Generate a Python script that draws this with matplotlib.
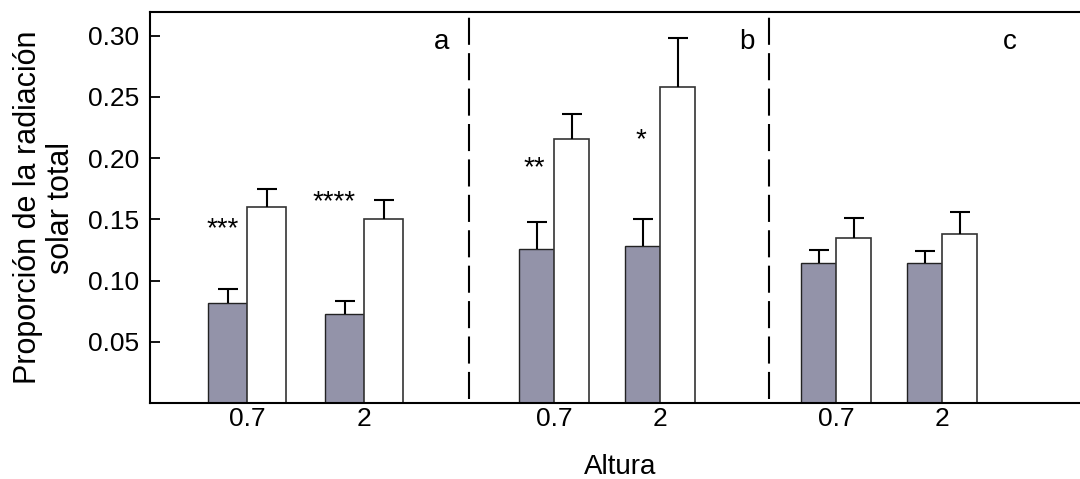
import matplotlib
matplotlib.use("Agg")
import matplotlib.pyplot as plt
import numpy as np

# ---- data ----
panels = ["a", "b", "c"]
alturas = ["0.7", "2", "0.7", "2", "0.7", "2"]
gray_vals = [0.082, 0.073, 0.126, 0.128, 0.114, 0.114]
gray_err = [0.011, 0.010, 0.022, 0.022, 0.011, 0.010]
white_vals = [0.160, 0.150, 0.216, 0.258, 0.1345, 0.138]
white_err = [0.015, 0.016, 0.020, 0.040, 0.017, 0.018]
signif = ["***", "****", "**", "*", "", ""]
signif_y = [0.136, 0.158, 0.186, 0.209, 0, 0]

# ---- layout (x in pixel-like units from the left spine) ----
group_x = np.array([97, 214, 404, 510, 686, 792])
bar_w = np.array([39, 39, 35, 35, 35, 35])
signif_x = [73, 184, 384, 491, 0, 0]
divider_x = [319.3, 619.3]
panel_label_x = [291.7, 596.7, 860]
panel_label_y = 0.2892

plt.rcParams['font.family'] = ['Liberation Sans', 'DejaVu Sans']

fig = plt.figure(figsize=(10.8, 4.79), dpi=100)
ax = fig.add_axes([150/1080, 1-403/479, 940/1080, (403-12)/479])

gray_col = '#9393a9'
ax.bar(group_x - bar_w/2, gray_vals, width=bar_w, color=gray_col,
       edgecolor='#222222', linewidth=1.0, zorder=2)
ax.bar(group_x + bar_w/2, white_vals, width=bar_w, color='white',
       edgecolor='#333333', linewidth=1.2, zorder=2)

for xs, vals, errs in [(group_x - bar_w/2, gray_vals, gray_err),
                       (group_x + bar_w/2, white_vals, white_err)]:
    tops = np.array(vals) + np.array(errs)
    ax.vlines(xs, vals, tops, colors='black', linewidth=1.5, zorder=3)
    ax.plot(xs, tops, linestyle='none', marker='_', markersize=15,
            markeredgewidth=1.5, color='black', zorder=3)

for s, x, y in zip(signif, signif_x, signif_y):
    if s:
        ax.text(x, y, s, fontsize=20, ha='center', va='baseline')

for lab, x in zip(panels, panel_label_x):
    ax.text(x, panel_label_y, lab, fontsize=20, ha='center', va='baseline')

for dx in divider_x:
    ax.plot([dx, dx], [0.003, 0.315], color='black', lw=1.5,
            linestyle=(0, (13, 4)), zorder=1)

ax.set_xlim(0, 940)
ax.set_ylim(0, 0.3194)
ax.set_yticks([0.05, 0.10, 0.15, 0.20, 0.25, 0.30])
ax.set_yticklabels(["%.2f" % v for v in [0.05, 0.10, 0.15, 0.20, 0.25, 0.30]])
ax.set_xticks(group_x)
ax.set_xticklabels(alturas)
ax.tick_params(axis='y', direction='in', length=7, width=1.3, labelsize=19, pad=8)
ax.tick_params(axis='x', length=0, labelsize=19, pad=3)
for sp in ax.spines.values():
    sp.set_linewidth(1.5)

fig.text(44.5/1080, 1-207.5/479, "Proporción de la radiación\nsolar total",
         rotation=90, ha='center', va='center', fontsize=22, linespacing=1.15)
fig.text(620/1080, 1-474/479, "Altura", ha='center', va='baseline', fontsize=20)

fig.savefig("out.png", dpi=100)
